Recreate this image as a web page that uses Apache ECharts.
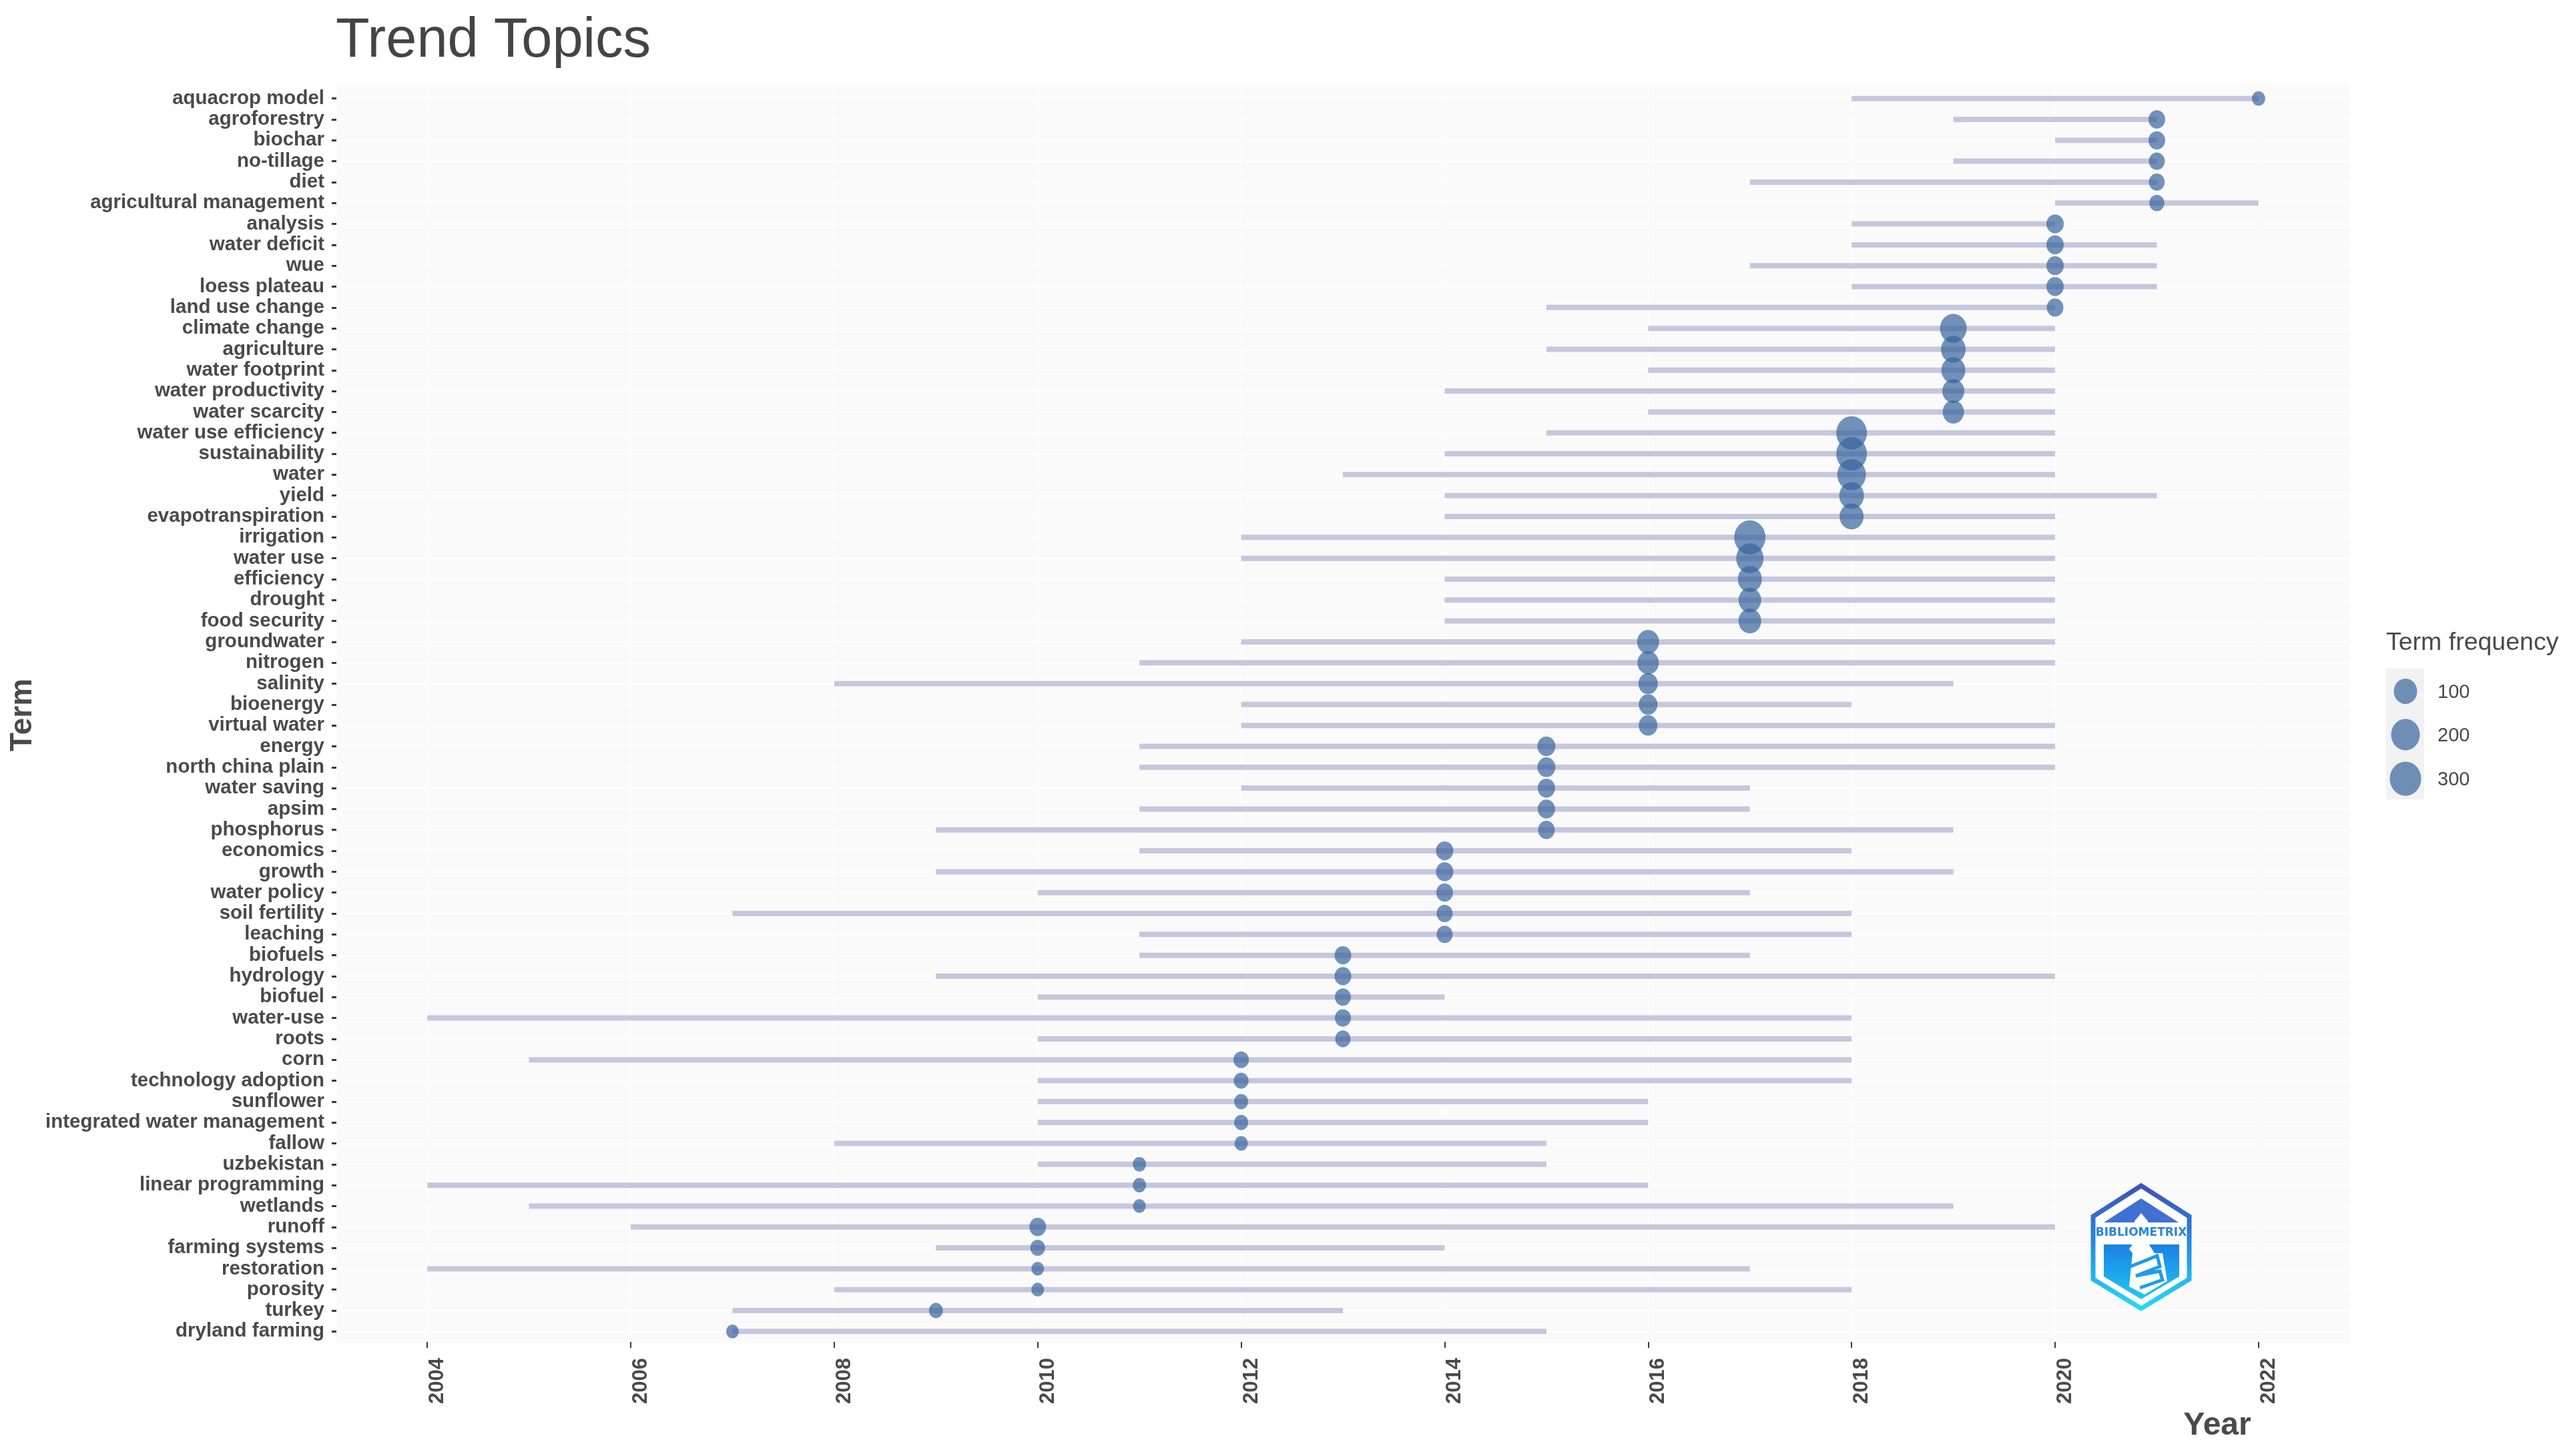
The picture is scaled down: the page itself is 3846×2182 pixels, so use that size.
<!DOCTYPE html>
<html>
<head>
<meta charset="utf-8">
<style>html,body{margin:0;padding:0;background:#fff}#c{width:3846px;height:2182px}</style>
<script src="https://cdn.jsdelivr.net/npm/echarts@6/dist/echarts.min.js"></script>
</head>
<body>
<div id="c"></div>
<script>
const terms = ["aquacrop model","agroforestry","biochar","no-tillage","diet","agricultural management","analysis","water deficit","wue","loess plateau","land use change","climate change","agriculture","water footprint","water productivity","water scarcity","water use efficiency","sustainability","water","yield","evapotranspiration","irrigation","water use","efficiency","drought","food security","groundwater","nitrogen","salinity","bioenergy","virtual water","energy","north china plain","water saving","apsim","phosphorus","economics","growth","water policy","soil fertility","leaching","biofuels","hydrology","biofuel","water-use","roots","corn","technology adoption","sunflower","integrated water management","fallow","uzbekistan","linear programming","wetlands","runoff","farming systems","restoration","porosity","turkey","dryland farming"];
const startYears = [2018,2019,2020,2019,2017,2020,2018,2018,2017,2018,2015,2016,2015,2016,2014,2016,2015,2014,2013,2014,2014,2012,2012,2014,2014,2014,2012,2011,2008,2012,2012,2011,2011,2012,2011,2009,2011,2009,2010,2007,2011,2011,2009,2010,2004,2010,2005,2010,2010,2010,2008,2010,2004,2005,2006,2009,2004,2008,2007,2007];
const endYears = [2022,2021,2021,2021,2021,2022,2020,2021,2021,2021,2020,2020,2020,2020,2020,2020,2020,2020,2020,2021,2020,2020,2020,2020,2020,2020,2020,2020,2019,2018,2020,2020,2020,2017,2017,2019,2018,2019,2017,2018,2018,2017,2020,2014,2018,2018,2018,2018,2016,2016,2015,2015,2016,2019,2020,2014,2017,2018,2013,2015];
const peakYears = [2022,2021,2021,2021,2021,2021,2020,2020,2020,2020,2020,2019,2019,2019,2019,2019,2018,2018,2018,2018,2018,2017,2017,2017,2017,2017,2016,2016,2016,2016,2016,2015,2015,2015,2015,2015,2014,2014,2014,2014,2014,2013,2013,2013,2013,2013,2012,2012,2012,2012,2012,2011,2011,2011,2010,2010,2010,2010,2009,2007];
const frequencies = [20,47,47,41,39,33,52,52,52,52,47,162,125,112,89,84,275,275,200,125,112,300,175,112,95,95,89,84,68,63,63,57,57,52,52,47,52,52,47,41,41,47,47,41,41,36,36,31,25,25,20,20,20,15,47,31,15,15,25,15];
const yearTicks = [2004,2006,2008,2010,2012,2014,2016,2018,2020,2022];
const legendValues = [100,200,300];
const sizeStops = [[0,17],[15,19],[20,20],[100,35],[200,43],[300,47]];

function pointWidth(f){
  for (let i=1;i<sizeStops.length;i++){
    const a=sizeStops[i-1], b=sizeStops[i];
    if (f<=b[0]) return a[1]+(b[1]-a[1])*(f-a[0])/(b[0]-a[0]);
  }
  return sizeStops[sizeStops.length-1][1];
}
const ASPECT = 1.09;
const POINT = '#38649c';
const segments = terms.map((t,i)=>[startYears[i],endYears[i],i]);
const points = terms.map((t,i)=>[peakYears[i],i,frequencies[i]]);
const GREY = '#4a4a4a';

const chart = echarts.init(document.getElementById('c'), null, {renderer:'canvas'});

const legendEls = [
  {type:'rect', z:5, shape:{x:3575,y:1002,width:57,height:196}, style:{fill:'#f2f2f2'}},
  {type:'text', z:5, style:{x:3575,y:964,text:'Term frequency',fill:'#4a4a4a',font:'37.5px "Liberation Sans"',verticalAlign:'middle',textAlign:'left'}}
];
legendValues.forEach((v,i)=>{
  const cy=[1036,1101,1167][i], w=pointWidth(v);
  legendEls.push({type:'ellipse', z:6, shape:{cx:3604,cy:cy,rx:w/2,ry:w*ASPECT/2}, style:{fill:POINT,opacity:0.7}});
  legendEls.push({type:'text', z:6, style:{x:3652,y:cy+2,text:String(v),fill:'#4a4a4a',font:'29px "Liberation Sans"',verticalAlign:'middle',textAlign:'left'}});
});
const axisNameEls = [
  {type:'text', z:6, style:{x:3322,y:2137,text:'Year',fill:GREY,font:'bold 48px "Liberation Sans"',textAlign:'center',verticalAlign:'middle'}}
];

const logoGrad = new echarts.graphic.LinearGradient(0,0,0,1,[{offset:0,color:'#3f4fb8'},{offset:0.45,color:'#2588e0'},{offset:1,color:'#24dcf8'}]);
const logoEls = [
  {type:'polygon', z:20, shape:{points:[[3208,1777],[3280,1823],[3280,1917],[3208,1961],[3136,1917],[3136,1823]]}, style:{fill:'#fff',stroke:logoGrad,lineWidth:7}},
  {type:'polygon', z:21, shape:{points:[[3208,1796],[3264,1832],[3152,1832]]}, style:{fill:'#3f70d4'}},
  {type:'polygon', z:21, shape:{points:[[3152,1865],[3265,1865],[3265,1913],[3208,1947],[3152,1913]]}, style:{fill:new echarts.graphic.LinearGradient(0,0,0,1,[{offset:0,color:'#1c80e2'},{offset:1,color:'#20c8f4'}])}},
  {type:'polygon', z:22, shape:{points:[[3208,1818],[3218,1830],[3218,1838],[3198,1838],[3198,1830]]}, style:{fill:'#fff'}},
  {type:'polygon', z:22, shape:{points:[[3197,1862],[3218,1862],[3228,1878],[3240,1878],[3247,1920],[3213,1940],[3190,1928],[3195,1878],[3190,1872]]}, style:{fill:'#fff'}},
  {type:'polyline', z:23, shape:{points:[[3192,1898],[3232,1882],[3236,1898],[3200,1912],[3236,1905],[3240,1918],[3206,1930]]}, style:{fill:'none',stroke:'#1f9ce8',lineWidth:5}},
  {type:'text', z:24, style:{x:3208,y:1848,text:'BIBLIOMETRIX',fill:'#2a84d8',font:'900 17px "DejaVu Sans"',textAlign:'center',verticalAlign:'middle'}}
];

chart.setOption({
  animation:false,
  backgroundColor:'#ffffff',
  title:{text:'Trend Topics',left:498,top:16,textStyle:{fontFamily:'Liberation Sans',fontWeight:'normal',fontSize:83,color:'#444444'}},
  grid:{left:487.7,right:3846-3536.3,top:132,bottom:171,containLabel:false,outerBoundsMode:'none'},
  xAxis:{
    type:'value',min:2003,max:2023,interval:1,
    axisLine:{show:false},
    axisTick:{show:true,customValues:yearTicks,length:9,lineStyle:{color:'#3a3a3a',width:2}},
    axisLabel:{show:true,customValues:yearTicks,rotate:90,margin:24,verticalAlign:'top',formatter:v=>String(v),
      fontFamily:'Liberation Sans',fontWeight:'bold',fontSize:31,color:GREY},
    splitLine:{show:true,lineStyle:{color:'#fefefe',width:2}}
  },
  yAxis:{
    type:'category',data:terms,inverse:true,offset:-16.3,
    name:'Term',nameLocation:'middle',nameGap:447,
    nameTextStyle:{fontFamily:'Liberation Sans',fontWeight:'bold',fontSize:46,color:GREY},
    axisLine:{show:false},
    axisTick:{show:true,alignWithLabel:true,length:7,lineStyle:{color:'#3a3a3a',width:3}},
    axisLabel:{show:true,interval:0,margin:18,padding:[3,0,0,0],fontFamily:'Liberation Sans',fontWeight:'bold',fontSize:29.5,color:GREY},
    splitLine:{show:true,alignWithLabel:true,interval:0,lineStyle:{color:'#fefefe',width:2}}
  },
  graphic:{elements:[
    {type:'rect',z:-10,silent:true,shape:{x:504,y:127,width:3016,height:1886},style:{fill:'#fafafb'}}
  ].concat(legendEls,axisNameEls,logoEls)},
  series:[
    {type:'custom',name:'span',data:segments,encode:{x:[0,1],y:2},z:3,clip:false,
      renderItem:(params,api)=>{
        const a=api.coord([api.value(0),api.value(2)]), b=api.coord([api.value(1),api.value(2)]);
        return {type:'line',shape:{x1:a[0],y1:a[1],x2:b[0],y2:b[1]},style:{stroke:'#c5c7dd',lineWidth:8,lineCap:'butt',fill:null}};
      }},
    {type:'scatter',name:'Term frequency',data:points,encode:{x:0,y:1},z:4,clip:false,
      symbol:'circle',
      symbolSize:(v)=>{const w=pointWidth(v[2]);return [w,w*ASPECT];},
      itemStyle:{color:POINT,opacity:0.7}}
  ]
});
</script>
</body>
</html>
